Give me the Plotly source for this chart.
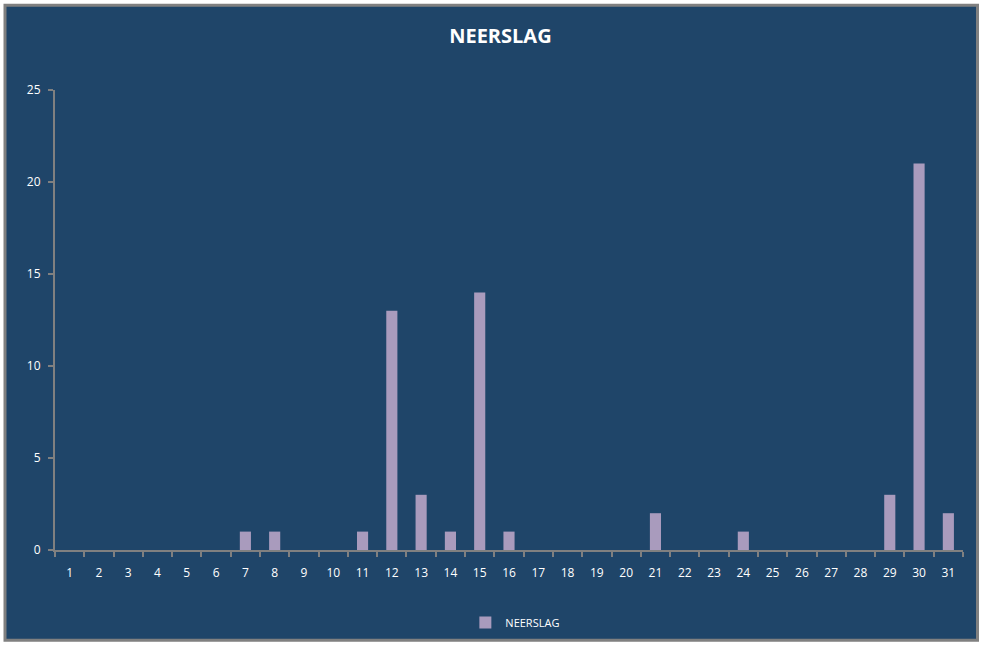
import plotly.graph_objs as go

# daily rainfall, days 1..31
days = [str(d) for d in range(1, 32)]
neerslag = [0, 0, 0, 0, 0, 0, 1, 1, 0, 0, 1, 13, 3, 1, 14, 1, 0, 0, 0, 0,
            2, 0, 0, 1, 0, 0, 0, 0, 3, 21, 2]
y_ticks = [0, 5, 10, 15, 20, 25]

bg = "#1F4569"
bar_color = "#A99BBD"
axis_grey = "#808080"
font = "Open Sans, DejaVu Sans, sans-serif"

fig = go.Figure()
fig.add_trace(
    go.Bar(
        x=days,
        y=neerslag,
        name="NEERSLAG",
        marker_color=bar_color,
        marker_line_width=0,
        showlegend=True,
    )
)

# outer chart frame (plot area spans 55..963 x, 90..551 y in pixels)
fig.add_shape(
    type="rect",
    xref="paper",
    yref="paper",
    x0=(5 - 55) / 908,
    x1=(977.5 - 55) / 908,
    y0=(551 - 641.5) / 461,
    y1=(551 - 5) / 461,
    fillcolor=bg,
    line=dict(color=axis_grey, width=3),
    layer="below",
)

fig.update_xaxes(
    type="category",
    tickson="boundaries",
    ticks="outside",
    ticklen=5,
    tickwidth=2,
    tickcolor=axis_grey,
    showline=True,
    linecolor=axis_grey,
    linewidth=2,
    showgrid=False,
    tickfont=dict(family=font, size=12, color="white"),
    ticklabelstandoff=11,
)
fig.update_yaxes(
    range=[0, 25],
    tickvals=y_ticks,
    ticks="outside",
    ticklen=5,
    tickwidth=2,
    tickcolor=axis_grey,
    showline=True,
    linecolor=axis_grey,
    linewidth=2,
    showgrid=False,
    zeroline=False,
    tickfont=dict(family=font, size=12, color="white"),
    ticklabelstandoff=5,
)

fig.update_layout(
    width=987,
    height=648,
    margin=dict(l=55, r=24, t=90, b=97),
    paper_bgcolor="white",
    plot_bgcolor="rgba(0,0,0,0)",
    bargap=0.62,
    title=dict(
        text="<b>NEERSLAG</b>",
        x=0.507,
        xanchor="center",
        y=0.945,
        yanchor="middle",
        font=dict(family=font, size=20, color="white"),
    ),
    legend=dict(
        orientation="h",
        x=0.507,
        xanchor="center",
        y=-0.155,
        yanchor="middle",
        font=dict(family=font, size=11, color="white"),
        bgcolor="rgba(0,0,0,0)",
    ),
)

# drop the default page margin so the figure sits at the window's corner
fig.write_html(
    "out.html",
    config={"displayModeBar": False},
    post_script="document.body.style.margin='0';",
)
